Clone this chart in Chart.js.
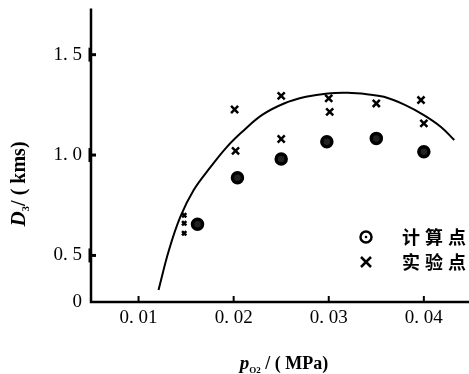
<!doctype html>
<html lang="zh">
<head>
<meta charset="utf-8">
<title>D3 - pO2</title>
<script src="https://cdn.jsdelivr.net/npm/chart.js"></script>
<style>
html, body { margin: 0; padding: 0; background: #fff; overflow: hidden; }
/* a little wider than the window: the point overflow padding on the right
   then falls just outside the visible area */
#wrap { width: 478px; height: 374px; position: relative; }
</style>
</head>
<body>
<div id="wrap"><canvas id="chart"></canvas></div>
<script>
// calculated points
const calcP = [0.0162, 0.0204, 0.025, 0.0298, 0.035, 0.040];
const calcD = [0.655, 0.887, 0.98, 1.066, 1.083, 1.016];

// experimental points
const expP = [0.0148, 0.0148, 0.0148, 0.0201, 0.0202, 0.025, 0.025, 0.030, 0.0301, 0.035, 0.0397, 0.040];
const expD = [0.70, 0.66, 0.61, 1.227, 1.021, 1.295, 1.08, 1.282, 1.215, 1.257, 1.274, 1.158];
const expSize = [3, 3, 3, 5, 5, 5, 5, 5, 5, 5, 5, 5];

// fitted curve
const curveP = [0.0121, 0.0132, 0.0144, 0.0158, 0.0176, 0.0193, 0.0210, 0.0230, 0.0253, 0.0276, 0.0299, 0.0320, 0.0340, 0.0358, 0.0380, 0.0400, 0.0418, 0.0432];
const curveD = [0.328, 0.527, 0.693, 0.826, 0.942, 1.041, 1.12, 1.20, 1.257, 1.29, 1.307, 1.31, 1.303, 1.29, 1.25, 1.199, 1.14, 1.075];

const xTicks = [0.01, 0.02, 0.03, 0.04];
const yTicks = [0.5, 1.0, 1.5];
const xMin = 0.005, xMax = 0.0448;
const yMin = 0.268, yMax = 1.73;

const legendItems = ['计算点', '实验点'];

const toXY = (xs, ys) => xs.map((x, i) => ({ x: x, y: ys[i] }));

const SERIF = '"Liberation Serif", "DejaVu Serif", serif';
const CJK = '"Noto Sans CJK SC", sans-serif';

// draws a row of text pieces (for subscripts), centred on x
function drawParts(ctx, parts, x, y) {
  let w = 0;
  parts.forEach(p => { ctx.font = p.font; w += ctx.measureText(p.t).width; });
  let cx = x - w / 2;
  ctx.textAlign = 'left';
  ctx.textBaseline = 'alphabetic';
  parts.forEach(p => {
    ctx.font = p.font;
    ctx.fillText(p.t, cx, y + (p.dy || 0));
    cx += ctx.measureText(p.t).width;
  });
}

// no extra room for the end tick labels
function noPadding(s) {
  s.paddingTop = 0; s.paddingBottom = 0;
  s.paddingLeft = 0; s.paddingRight = 0;
}

const decorations = {
  id: 'decorations',
  afterDraw(chart) {
    const ctx = chart.ctx;
    const xs = chart.scales.x, ys = chart.scales.y;
    const area = chart.chartArea;
    ctx.save();
    ctx.strokeStyle = '#000';
    ctx.fillStyle = '#000';

    // axis lines
    ctx.lineWidth = 2.5;
    ctx.beginPath();
    ctx.moveTo(area.left, area.top);
    ctx.lineTo(area.left, area.bottom);
    ctx.lineTo(area.right, area.bottom);
    ctx.stroke();

    // inward tick marks
    ctx.lineWidth = 3;
    yTicks.forEach(v => {
      const py = ys.getPixelForValue(v);
      ctx.beginPath();
      ctx.moveTo(area.left, py);
      ctx.lineTo(area.left + 5, py);
      ctx.stroke();
      ctx.beginPath();
      ctx.moveTo(area.left - 1, py - 7);
      ctx.lineTo(area.left - 1, py + 7);
      ctx.stroke();
    });
    ctx.lineWidth = 2;
    xTicks.forEach(v => {
      const px = xs.getPixelForValue(v);
      ctx.beginPath();
      ctx.moveTo(px, area.bottom);
      ctx.lineTo(px, area.bottom - 6);
      ctx.stroke();
    });

    // axis titles
    drawParts(ctx, [
      { t: 'p', font: 'italic bold 19px ' + SERIF },
      { t: 'O2', font: 'bold 9px ' + SERIF, dy: 4 },
      { t: ' / ( MPa)', font: 'bold 18px ' + SERIF }
    ], 284, 369);

    ctx.save();
    ctx.translate(25, 184);
    ctx.rotate(-Math.PI / 2);
    drawParts(ctx, [
      { t: 'D', font: 'italic bold 21px ' + SERIF },
      { t: '3', font: 'bold 11px ' + SERIF, dy: 4 },
      { t: '/ ( kms)', font: 'bold 20px ' + SERIF }
    ], 0, 0);
    ctx.restore();

    // legend
    const lx = 366, ly = [237, 262];
    ctx.lineWidth = 2.5;
    ctx.beginPath();
    ctx.arc(lx, ly[0], 5.5, 0, Math.PI * 2);
    ctx.stroke();
    ctx.beginPath();
    ctx.arc(lx, ly[0], 1.3, 0, Math.PI * 2);
    ctx.fill();
    ctx.beginPath();
    ctx.moveTo(lx - 5, ly[1] - 5);
    ctx.lineTo(lx + 5, ly[1] + 5);
    ctx.moveTo(lx + 5, ly[1] - 5);
    ctx.lineTo(lx - 5, ly[1] + 5);
    ctx.stroke();

    ctx.font = 'bold 18px ' + CJK;
    ctx.textBaseline = 'middle';
    ctx.textAlign = 'left';
    if ('letterSpacing' in ctx) ctx.letterSpacing = '5px';
    legendItems.forEach((t, i) => ctx.fillText(t, 402, ly[i]));
    ctx.restore();
  }
};

new Chart(document.getElementById('chart'), {
  type: 'scatter',
  data: {
    datasets: [{
      data: toXY(curveP, curveD),
      showLine: true,
      borderColor: '#000',
      borderWidth: 2,
      pointRadius: 0,
      tension: 0.4,
      fill: false
    }, {
      data: toXY(calcP, calcD),
      pointStyle: 'circle',
      pointRadius: 5,
      borderWidth: 3.5,
      borderColor: '#000',
      backgroundColor: '#222'
    }, {
      data: toXY(expP, expD),
      pointStyle: 'crossRot',
      pointRadius: expSize,
      borderWidth: 2.5,
      borderColor: '#000'
    }]
  },
  options: {
    responsive: true,
    maintainAspectRatio: false,
    animation: false,
    devicePixelRatio: 1,
    layout: { padding: { top: 8, right: 0, left: 0, bottom: 0 } },
    scales: {
      x: {
        type: 'linear',
        min: xMin,
        max: xMax,
        afterBuildTicks: s => { s.ticks = xTicks.map(v => ({ value: v })); },
        afterFit: s => { s.height = 72; noPadding(s); },
        border: { display: false },
        grid: { display: false, drawTicks: false },
        ticks: {
          padding: 5,
          color: '#000',
          font: { family: SERIF, size: 19 },
          callback: v => v.toFixed(2).replace('.', '. ')
        }
      },
      y: {
        type: 'linear',
        min: yMin,
        max: yMax,
        afterBuildTicks: s => { s.ticks = [{ value: yMin }].concat(yTicks.map(v => ({ value: v }))); },
        afterFit: s => { s.width = 91; noPadding(s); },
        border: { display: false },
        grid: { display: false, drawTicks: false },
        ticks: {
          padding: 9,
          color: '#000',
          font: { family: SERIF, size: 19 },
          callback: v => v === yMin ? '0' : v.toFixed(1).replace('.', '. ')
        }
      }
    },
    plugins: {
      legend: { display: false },
      tooltip: { enabled: false }
    }
  },
  plugins: [decorations]
});
</script>
</body>
</html>
